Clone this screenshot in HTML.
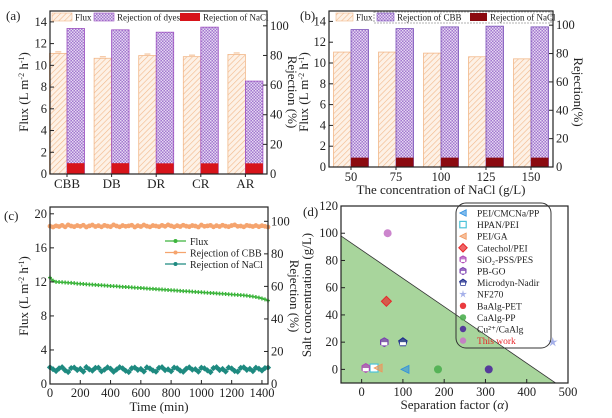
<!DOCTYPE html>
<html><head><meta charset="utf-8">
<style>
html,body{margin:0;padding:0;background:#fff;}
svg{display:block;font-family:"Liberation Serif",serif;}
</style></head>
<body>
<svg id="fig" width="612" height="418" viewBox="0 0 612 418" xmlns="http://www.w3.org/2000/svg">
<defs>
<pattern id="hatch" width="4" height="4" patternUnits="userSpaceOnUse" patternTransform="rotate(45)">
<rect width="4" height="4" fill="#fdf1e6"/><line x1="0" y1="0" x2="0" y2="4" stroke="#f2b88a" stroke-width="1.2"/></pattern>
<pattern id="check" width="3" height="3" patternUnits="userSpaceOnUse">
<rect width="3" height="3" fill="#a277cf"/><rect width="1.5" height="1.5" fill="#e6d8f2"/><rect x="1.5" y="1.5" width="1.5" height="1.5" fill="#e6d8f2"/></pattern>
</defs>
<g id="root"></g>
</svg>
<script>
// ---- Panel (a) data ----
const aCats = ["CBB","DB","DR","CR","AR"];
const aFlux = [11.1,10.65,10.9,10.8,11.0];
const aDye = [98.2,97.3,95.7,99.1,62.7];
const aNaCl = [7.3,7.3,7.2,7.2,7.2];
// ---- Panel (b) data ----
const bCats = ["50","75","100","125","150"];
const bFlux = [11.05,11.05,10.95,10.6,10.4];
const bCBB = [96.9,97.6,98.8,99.3,98.8];
const bNaCl = [6.6,6.6,6.6,6.6,6.6];
// ---- Panel (c) data (every 20 min) ----
const cTimes = Array.from({length:73},(_, i)=>i*20);
const cFlux = [12.5,12.15,12.0,11.98,11.95,11.93,11.9,11.88,11.85,11.8,11.78,11.75,11.72,11.7,11.68,11.65,11.62,11.6,11.58,11.55,11.52,11.5,11.48,11.45,11.42,11.4,11.38,11.35,11.32,11.3,11.28,11.25,11.22,11.2,11.18,11.15,11.12,11.1,11.08,11.05,11.02,11.0,10.98,10.95,10.92,10.9,10.88,10.85,10.82,10.8,10.78,10.75,10.72,10.7,10.68,10.65,10.62,10.6,10.58,10.55,10.52,10.5,10.47,10.45,10.42,10.38,10.33,10.28,10.22,10.15,10.05,9.95,9.8];
const cCBB = [97,96.5,97.2,96.8,97.5,96.6,97.8,97.1,96.7,97.4,96.9,97.6,96.5,97.2,97.7,96.8,97.3,96.6,97.5,97.0,96.7,97.8,97.1,96.6,97.4,96.9,97.2,97.6,96.5,97.3,96.8,97.7,97.0,96.6,97.4,97.1,96.7,97.5,96.9,97.8,97.2,96.6,97.3,96.8,97.6,97.0,96.7,97.4,97.1,96.5,97.7,96.9,97.2,97.5,96.6,97.3,96.8,97.6,97.0,96.7,97.4,97.8,96.9,97.1,96.6,97.5,97.2,96.8,97.4,96.7,97.3,96.9,96.5];
const cNaCl = [10.2,9.1,8.0,9.6,10.3,8.4,7.4,9.8,10.1,8.6,9.3,7.6,10.4,9.0,8.2,9.9,10.0,7.8,8.8,10.2,9.4,7.5,8.9,10.3,9.6,8.1,7.4,9.7,10.1,8.7,9.2,7.7,10.2,9.5,8.3,7.6,9.9,10.3,8.5,9.0,7.8,10.1,9.7,8.2,7.5,9.4,10.2,8.8,9.1,7.6,10.0,9.6,8.4,7.3,9.8,10.3,8.6,9.2,7.7,10.1,9.5,8.0,7.6,9.9,10.2,8.7,9.3,7.9,10.0,9.4,8.3,9.8,10.1];
// ---- Panel (d) data ----
const dNames = ["PEI/CMCNa/PP","HPAN/PEI","PEI/GA","Catechol/PEI","SiO\u2082-PSS/PES","PB-GO","Microdyn-Nadir","NF270","BaAlg-PET","CaAlg-PP","Cu\u00b2\u207a/CaAlg","This work"];
const dX = [105,30,40,60,10,55,100,463,null,185,308,63];
const dY = [0,1,1,50,1,20,20,20,null,0,0,100];
const dShapes = ["ltri","square","ltri","diamond","cup","hex","pent","star","circle","circle","circle","circle"];
const dColors = ["#2e8fe0","#4cc3d9","#f0955a","#e8262a","#b04bb8","#7a3fb0","#1c2a8c","#7f8fe0","#e8262a","#4caf50","#4b2a9a","#c678c8"];

const NS="http://www.w3.org/2000/svg";
const root=document.getElementById('root');
function el(tag,attrs,parent,text){const e=document.createElementNS(NS,tag);for(const k in attrs)e.setAttribute(k,attrs[k]);if(text!==undefined)e.textContent=text;(parent||root).appendChild(e);return e;}
function lin(d0,d1,r0,r1){return v=>r0+(v-d0)/(d1-d0)*(r1-r0);}

function frame(g,L,T,R,B){
  const f=el('rect',{x:L,y:T,width:R-L,height:B-T,fill:'none',stroke:'#222','stroke-width':1.2},g);
  
}
function yTicks(g,ticks,ys,x,side,fs){
  ticks.forEach(t=>{const y=ys(t);
    el('line',{x1:x,x2:x+(side<0?4:-4),y1:y,y2:y,stroke:'#222'},g);
    const tx=el('text',{x:side<0?x-3:x+3,y:y+4,'font-size':fs||12.5,'text-anchor':side<0?'end':'start',fill:'#222'},g,String(t));
    
  });
}
function xTicks(g,ticks,xs,y,fs){
  ticks.forEach(t=>{const x=xs(t);
    el('line',{x1:x,x2:x,y1:y,y2:y-4,stroke:'#222'},g);
    const tx=el('text',{x:x,y:y+13,'font-size':fs||12.5,'text-anchor':'middle',fill:'#222'},g,String(t));
    
  });
}
function vtitle(g,x,y,txt,rot,name,fs){
  const t=el('text',{x:x,y:y,'font-size':fs||13,'text-anchor':'middle',fill:'#222',transform:`rotate(${rot} ${x} ${y})`},g);
  t.innerHTML=txt;return t;
}
function label(txt,x,y){const t=el('text',{x:x,y:y,'font-size':13,fill:'#222'},root,txt);}

function barPanel(name,L,T,R,B,cats,flux,rej,nacl,x0,dx,rejFill,naclColor,rejEdge,legendTexts,xtitle){
  const g=el('g',{},root);
  const yl=lin(0,15,B,T), yr=lin(0,110,B,T);
  const bw=17.5;
  cats.forEach((c,i)=>{
    const cx=x0+i*dx;
    const f=el('rect',{x:cx-bw,y:yl(flux[i]),width:bw,height:B-yl(flux[i]),fill:'url(#hatch)',stroke:'#f2b88a','stroke-width':0.8},g);
    
    if(name==='panel-a'){el('line',{x1:cx-bw/2-3,x2:cx-bw/2+3,y1:yl(flux[i])-1.5,y2:yl(flux[i])-1.5,stroke:'#f2b88a'},g);}
    const r=el('rect',{x:cx,y:yr(rej[i]),width:bw,height:B-yr(rej[i]),fill:rejFill,stroke:rejEdge,'stroke-width':0.8},g);
    
    const n=el('rect',{x:cx,y:yr(nacl[i]),width:bw,height:B-yr(nacl[i]),fill:naclColor},g);
    
    el('line',{x1:cx,x2:cx,y1:B,y2:B+3,stroke:'#222'},g);
    const t=el('text',{x:cx,y:B+14,'font-size':name==='panel-a'?13:12.5,'text-anchor':'middle',fill:'#222'},g,c);
    
  });
  frame(g,L,T,R,B);
  yTicks(g,[0,2,4,6,8,10,12,14],yl,L,-1);
  yTicks(g,[0,20,40,60,80,100],yr,R,1);
  const ly=T+2;
  const lg=el('g',{},g);
  legendTexts.forEach(it=>{
    el('rect',{x:it[0],y:ly,width:it[3],height:8,fill:it[2],stroke:it[4]||'none','stroke-width':0.6},lg);
    const t=el('text',{x:it[0]+it[3]+3,y:ly+7.5,'font-size':9,fill:'#222'},lg,it[1]);
    
  });
  if(xtitle){const t=el('text',{x:(L+R)/2,y:B+27,'font-size':13,'text-anchor':'middle',fill:'#222'},g,xtitle);}
  return g;
}
const ga=barPanel('panel-a',50,11,267,174,aCats,aFlux,aDye,aNaCl,67,44.6,'url(#check)','#d7141a','#9b4fc0',
 [[52,'Flux','url(#hatch)',20,'#f2b88a'],[94,'Rejection of dyes','url(#check)',20,'#9b4fc0'],[180,'Rejection of NaCl','#d7141a',20]],null);
vtitle(ga,28,92,'Flux (L m<tspan baseline-shift="super" font-size="8">-2</tspan> h<tspan baseline-shift="super" font-size="8">-1</tspan>)',-90,'y-axis-title-left');
vtitle(ga,288,92,'Rejection (%)',90,'y-axis-title-right');
label('(a)',6,20);

const gb=barPanel('panel-b',329,11,553,167,bCats,bFlux,bCBB,bNaCl,351,45,'url(#check)','#8b0a10','#7a4fb8',
 [[336,'Flux','url(#hatch)',17,'#f2b88a'],[377,'Rejection of CBB','url(#check)',17,'#7a4fb8'],[470,'Rejection of NaCl','#8b0a10',17]],'The concentration of NaCl (g/L)');
el('rect',{x:374,y:12,width:177,height:11,fill:'none',stroke:'#666','stroke-dasharray':'2,1','stroke-width':0.6},gb);
vtitle(gb,308,92,'Flux (L m<tspan baseline-shift="super" font-size="8">-2</tspan> h<tspan baseline-shift="super" font-size="8">-1</tspan>)',-90,'y-axis-title-left');
vtitle(gb,574,92,'Rejection(%)',90,'y-axis-title-right');
label('(b)',300,20);

(function(){
  const L=50,R=268,T=207,B=384;
  const g=el('g',{},root);
  const xs=lin(0,1440,L,R), yl=lin(0,20.8,B,T), yr=lin(0,108.8,B,T);
  function series(vals,ys,color,nm,marker){
    const pts=cTimes.map((t,i)=>xs(t).toFixed(1)+','+ys(vals[i]).toFixed(1)).join(' ');
    const pl=el('polyline',{points:pts,fill:'none',stroke:color,'stroke-width':1.3},g);
    
    cTimes.forEach((t,i)=>{
      let m;
      if(marker==='star')m=el('path',{d:`M${xs(t)-2},${ys(vals[i])}h4M${xs(t)},${ys(vals[i])-2}v4`,stroke:color,'stroke-width':1.4},g);
      else if(marker==='diamond')m=el('rect',{x:xs(t)-2.2,y:ys(vals[i])-2.2,width:4.4,height:4.4,fill:color,transform:`rotate(45 ${xs(t)} ${ys(vals[i])})`},g);
      else m=el('circle',{cx:xs(t),cy:ys(vals[i]),r:2.4,fill:color},g);
      
    });
  }
  series(cCBB,yr,'#f5a46e','cbb-rejection','circle');
  series(cNaCl,yr,'#1e8a80','nacl-rejection','diamond');
  series(cFlux,yl,'#3db53d','flux','star');
  frame(g,L,T,R,B);
  yTicks(g,[0,4,8,12,16,20],yl,L,-1);
  yTicks(g,[0,20,40,60,80,100],yr,R,1);
  xTicks(g,[0,200,400,600,800,1000,1200,1400],xs,B);
  const xt=el('text',{x:(L+R)/2,y:B+27,'font-size':13,'text-anchor':'middle',fill:'#222'},g,'Time (min)');
  vtitle(g,28,296,'Flux (L m<tspan baseline-shift="super" font-size="8">-2</tspan> h<tspan baseline-shift="super" font-size="8">-1</tspan>)',-90,'y-axis-title-left');
  vtitle(g,290,296,'Rejection (%)',90,'y-axis-title-right');
  const lg=el('g',{},g);
  [['Flux','#3db53d'],['Rejection of CBB','#f5a46e'],['Rejection of NaCl','#1e8a80']].forEach((it,i)=>{
    const y=241+i*11.5;
    el('line',{x1:165,x2:186,y1:y,y2:y,stroke:it[1],'stroke-width':1.3},lg);
    el('circle',{cx:175.5,cy:y,r:2,fill:it[1]},lg);
    const t=el('text',{x:190,y:y+4,'font-size':10,fill:'#222'},lg,it[0]);
  });
  label('(c)',4,220);
})();

function marker(g,shape,x,y,c,s){
  let m;s=s||4;
  if(shape==='ltri')m=el('path',{d:`M${x-s},${y}L${x+s},${y-s}L${x+s},${y+s}Z`,fill:c,stroke:c,'stroke-width':0.8,'fill-opacity':0.6},g);
  else if(shape==='square')m=el('rect',{x:x-s,y:y-s,width:2*s,height:2*s,fill:'#fff',stroke:c,'stroke-width':1.2},g);
  else if(shape==='diamond')m=el('path',{d:`M${x},${y-s-1}L${x+s+1},${y}L${x},${y+s+1}L${x-s-1},${y}Z`,fill:c,stroke:c,'fill-opacity':0.7},g);
  else if(shape==='star'){let d='';for(let k=0;k<10;k++){const r=k%2?s*0.45:s*1.3,a=-Math.PI/2+k*Math.PI/5;d+=(k?'L':'M')+(x+r*Math.cos(a)).toFixed(1)+','+(y+r*Math.sin(a)).toFixed(1);}m=el('path',{d:d+'Z',fill:c,'fill-opacity':0.7},g);}
  else if(shape==='hex'||shape==='pent'||shape==='cup'){const n=shape==='pent'?5:6;let d='';for(let k=0;k<n;k++){const a=-Math.PI/2+k*2*Math.PI/n;d+=(k?'L':'M')+(x+s*1.1*Math.cos(a)).toFixed(1)+','+(y+s*1.1*Math.sin(a)).toFixed(1);}m=el('path',{d:d+'Z',fill:c,stroke:c,'fill-opacity':0.75},g);el('rect',{x:x-s+1,y:y,width:2*s-2,height:s*0.8,fill:'#fff'},g);}
  else m=el('circle',{cx:x,cy:y,r:s,fill:c,'fill-opacity':0.9},g);
  return m;
}
(function(){
  const L=341,R=568,T=206,B=383;
  const g=el('g',{},root);
  const xs=lin(-50,500,L,R), ys=lin(-10,120,B,T);
  const tri=el('path',{d:`M${xs(-50)},${ys(98)}L${xs(470)},${ys(-10)}L${xs(-50)},${ys(-10)}Z`,fill:'#a8d59c',stroke:'none'},g);
  
  el('line',{x1:xs(-50),y1:ys(98),x2:xs(470),y2:ys(-10),stroke:'#333','stroke-width':0.8},g);
  dNames.forEach((n,i)=>{
    if(dX[i]===null)return;
    const m=marker(g,dShapes[i],xs(dX[i]),ys(dY[i]),dColors[i]);
    
  });
  frame(g,L,T,R,B);
  yTicks(g,[0,20,40,60,80,100,120],ys,L,-1);
  xTicks(g,[0,100,200,300,400,500],xs,B);
  const xt=el('text',{x:(L+R)/2,y:B+26,'font-size':13,'text-anchor':'middle',fill:'#222'},g);
  xt.innerHTML='Separation factor (<tspan font-style="italic">α</tspan>)';
  vtitle(g,311,295,'Salt concentration (g/L)',-90,'y-axis-title');
  const lg=el('g',{},g);
  el('rect',{x:456,y:203,width:95,height:145,rx:10,fill:'none',stroke:'#333','stroke-width':1},lg);
  dNames.forEach((n,i)=>{
    const y=213+i*11.6;
    marker(lg,dShapes[i],463,y,dColors[i],3.2);
    const t=el('text',{x:477,y:y+3.5,'font-size':9.5,fill:n==='This work'?'#e8262a':'#222'},lg,n);
    
  });
  label('(d)',303,216);
})();
</script>
</body></html>
